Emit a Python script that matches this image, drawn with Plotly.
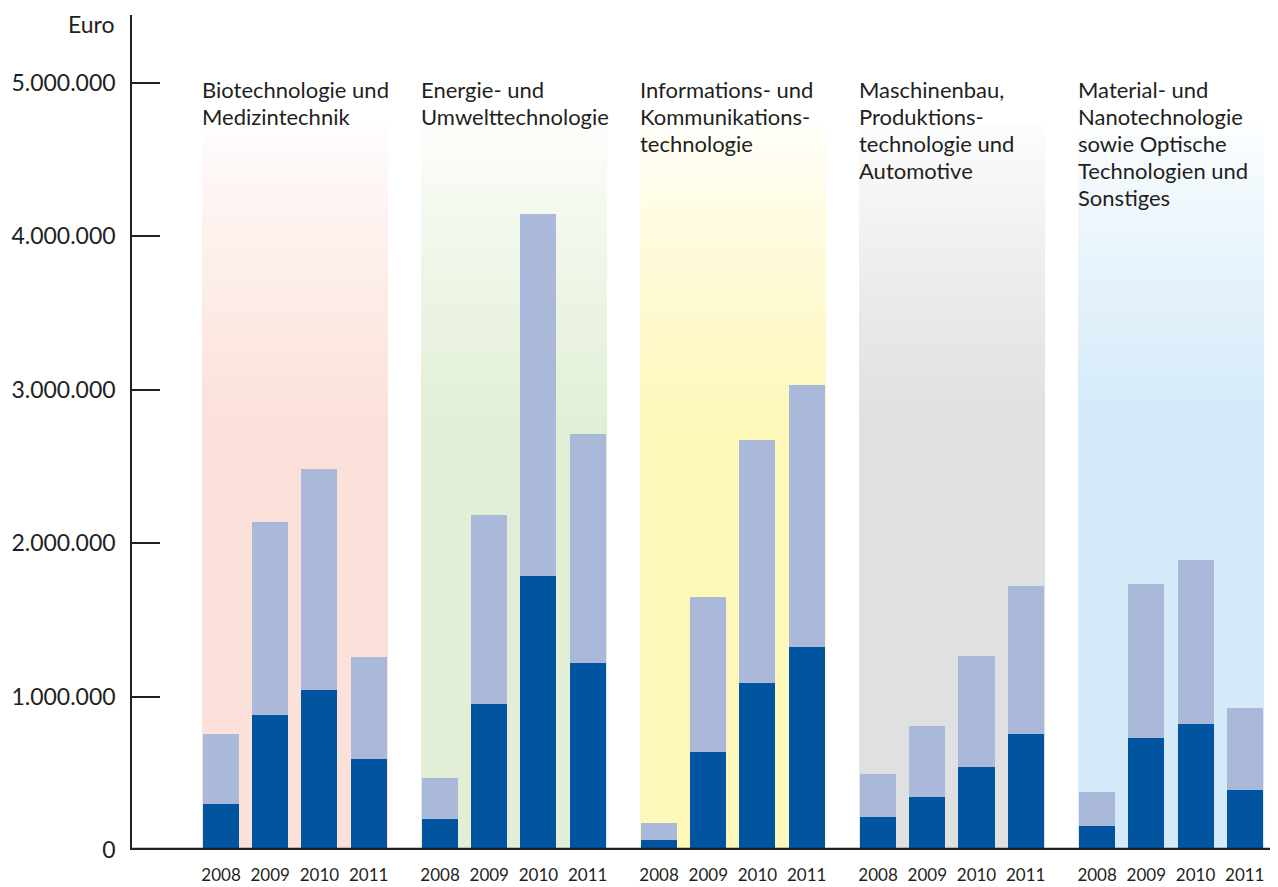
import numpy as np
import plotly.graph_objects as go

# ---------------- data ----------------
categories = [
    "Biotechnologie und<br>Medizintechnik",
    "Energie- und<br>Umwelttechnologie",
    "Informations- und<br>Kommunikations-<br>technologie",
    "Maschinenbau,<br>Produktions-<br>technologie und<br>Automotive",
    "Material- und<br>Nanotechnologie<br>sowie Optische<br>Technologien und<br>Sonstiges",
]
years = ["2008", "2009", "2010", "2011"]

# dark (lower) segment values per category, 2008..2011 (Euro)
dark_values = [
    [300000, 880000, 1043000, 593000],
    [202000, 952000, 1786000, 1219000],
    [65000, 639000, 1089000, 1323000],
    [215000, 346000, 541000, 756000],
    [156000, 730000, 821000, 391000],
]
# total bar heights per category, 2008..2011 (Euro)
total_values = [
    [756000, 2138000, 2484000, 1258000],
    [469000, 2184000, 4146000, 2712000],
    [176000, 1649000, 2673000, 3031000],
    [495000, 808000, 1265000, 1721000],
    [378000, 1734000, 1890000, 926000],
]
y_ticks = [0, 1000000, 2000000, 3000000, 4000000, 5000000]

# ---------------- style ----------------
band_colors = ["#FBE1DA", "#E2EFD6", "#FEF7BA", "#DFE0E2", "#D4EAF9"]
dark_color = "#0054A0"
light_color = "#AAB8DA"
text_color = "#231F20"
FONT = "Lato"

GROUP_STEP = 4.451   # distance between groups in bar-slot units
BAR_W = 0.732
X_MIN, X_MAX = -1.809, 21.48
Y_MAX = 5.443e6
BAND_TOP = 4.74e6
BAND_FULL = 2.8e6
PLOT_H = 835.0
TITLE_Y0 = 0.9102
TITLE_STEP = 27.0 / PLOT_H

fig = go.Figure()

# background gradient bands (heatmaps sit below bars)
y_edges = np.linspace(0, BAND_TOP, 201)
y_mid = (y_edges[:-1] + y_edges[1:]) / 2
zcol = np.clip((BAND_TOP - y_mid) / (BAND_TOP - BAND_FULL), 0, 1) ** 0.85
zcol = 0.05 + 0.95 * zcol
for g, col in enumerate(band_colors):
    x0 = g * GROUP_STEP - BAR_W / 2 - 0.02
    x1 = g * GROUP_STEP + (len(years) - 1) + BAR_W / 2 + 0.02
    fig.add_trace(go.Heatmap(
        x=[x0, x1], y=y_edges, z=zcol.reshape(-1, 1),
        colorscale=[[0, "#FFFFFF"], [1, col]], zmin=0, zmax=1,
        showscale=False, hoverinfo="skip",
    ))

# bars
xs, dark_flat, light_flat = [], [], []
for g in range(len(categories)):
    for i in range(len(years)):
        xs.append(g * GROUP_STEP + i)
        dark_flat.append(dark_values[g][i])
        light_flat.append(total_values[g][i] - dark_values[g][i])

fig.add_trace(go.Bar(x=xs, y=dark_flat, width=BAR_W, marker=dict(color=dark_color, line=dict(width=0)),
                     showlegend=False, hoverinfo="y"))
fig.add_trace(go.Bar(x=xs, y=light_flat, width=BAR_W, marker=dict(color=light_color, line=dict(width=0)),
                     showlegend=False, hoverinfo="y"))

# category titles (one annotation per line for exact line spacing)
for g, name in enumerate(categories):
    for k, line in enumerate(name.split("<br>")):
        fig.add_annotation(
            x=g * GROUP_STEP - BAR_W / 2 - 0.06, y=TITLE_Y0 - k * TITLE_STEP,
            xref="x", yref="paper",
            text=line, showarrow=False, xanchor="left", yanchor="middle", align="left",
            font=dict(family=FONT, size=22, color=text_color),
        )

# unit label
fig.add_annotation(
    x=-0.0131, y=0.989, xref="paper", yref="paper", text="Euro", showarrow=False,
    xanchor="right", yanchor="middle", font=dict(family=FONT, size=23, color=text_color),
)

# thick baseline
fig.add_shape(type="line", xref="paper", yref="y", x0=0, x1=1, y0=0, y1=0,
              line=dict(color=text_color, width=4.5), layer="above")

# page body has an 8px margin: figure is sized/offset to fill the 1278x887 view
fig.update_layout(
    width=1270, height=879,
    margin=dict(l=124, r=0, t=7, b=37),
    paper_bgcolor="white", plot_bgcolor="white",
    barmode="stack", bargap=0,
    separators=",.",
    showlegend=False,
    font=dict(family=FONT, color=text_color),
)
fig.update_xaxes(
    range=[X_MIN, X_MAX], showgrid=False, zeroline=False, showline=False,
    tickvals=xs, ticktext=[years[i % 4] for i in range(len(xs))],
    ticks="", ticklabelstandoff=13,
    tickfont=dict(family=FONT, size=17, color=text_color),
)
fig.update_yaxes(
    range=[0, Y_MAX], showgrid=False, zeroline=False,
    showline=True, linecolor=text_color, linewidth=1.5,
    tickvals=y_ticks, tickformat=",d",
    ticks="inside", ticklen=28, tickwidth=1.5, tickcolor=text_color,
    ticklabelstandoff=10,
    tickfont=dict(family=FONT, size=23, color=text_color),
)

fig.write_html("out.html")
